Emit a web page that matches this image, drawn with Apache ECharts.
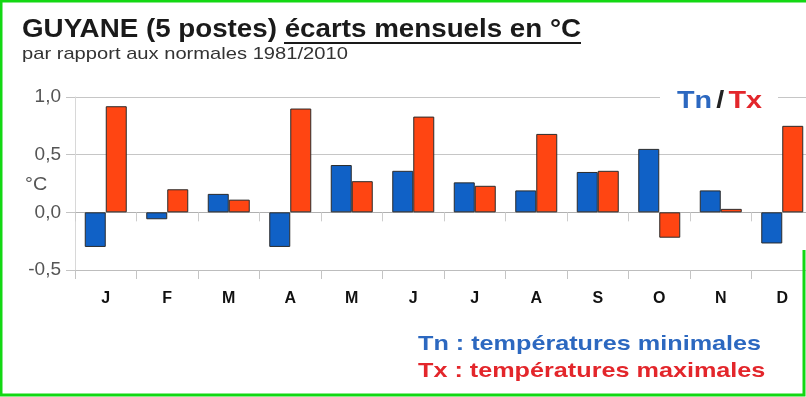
<!DOCTYPE html>
<html>
<head>
<meta charset="utf-8">
<script src="https://cdn.jsdelivr.net/npm/echarts@6/dist/echarts.min.js"></script>
<style>
  html, body { margin: 0; padding: 0; background: #fff; }
  #chart { width: 806px; height: 397px; }
</style>
</head>
<body>
<div id="chart"></div>
<script>
// Monthly departures from the 1981/2010 normals, French Guiana (5 stations)
const months = ['J', 'F', 'M', 'A', 'M', 'J', 'J', 'A', 'S', 'O', 'N', 'D'];
const tnValues = [-0.30, -0.06, 0.16, -0.30, 0.41, 0.36, 0.26, 0.19, 0.35, 0.55, 0.19, -0.27];
const txValues = [0.92, 0.20, 0.11, 0.90, 0.27, 0.83, 0.23, 0.68, 0.36, -0.22, 0.03, 0.75];
const yTicks = { min: -0.5, max: 1.0, step: 0.5 };

const BLUE = '#1061c6';
const RED = '#ff4512';
const TN_TEXT = '#2c68c0';
const TX_TEXT = '#e3262b';
const FONT = '"Liberation Sans", Arial, sans-serif';

const chart = echarts.init(document.getElementById('chart'), null, { renderer: 'canvas' });

// horizontally widened text block helper
function wideText(x, y, text, font, fill, scaleX) {
  return {
    type: 'text', x: x, y: y, scaleX: scaleX, scaleY: 1, z: 100,
    style: { text: text, font: font, fill: fill, textVerticalAlign: 'top' }
  };
}

chart.setOption({
  animation: false,
  backgroundColor: '#fff',
  grid: {
    left: 75, width: 738, top: 97, bottom: 127,
    containLabel: false,
    outerBoundsMode: 'none'
  },
  xAxis: [
    {
      type: 'category',
      data: months,
      position: 'bottom',
      axisLine: { onZero: false, lineStyle: { color: '#bdbdbd', width: 1 } },
      axisTick: { show: true, length: 9, lineStyle: { color: '#c4c4c4' } },
      axisLabel: { color: '#111', fontFamily: FONT, fontWeight: 'bold', fontSize: 16, margin: 21 },
      splitLine: { show: false }
    },
    {
      type: 'category',
      data: months,
      position: 'bottom',
      axisLine: { onZero: true, lineStyle: { color: '#b0b0b0', width: 1 } },
      axisTick: { show: true, length: 9, lineStyle: { color: '#cccccc' } },
      axisLabel: { show: false },
      splitLine: { show: false }
    }
  ],
  yAxis: {
    type: 'value',
    min: yTicks.min,
    max: yTicks.max,
    interval: yTicks.step,
    axisLine: { show: true, lineStyle: { color: '#d8d8d8' } },
    axisTick: { show: true, length: 9, lineStyle: { color: '#c4c4c4' } },
    axisLabel: {
      color: '#555',
      fontFamily: FONT,
      fontSize: 19,
      margin: 14,
      formatter: v => v.toFixed(1).replace('.', ',')
    },
    splitLine: { show: true, lineStyle: { color: '#c6c6c6', width: 1 } }
  },
  series: [
    {
      name: 'Tn',
      type: 'bar',
      xAxisIndex: 0,
      data: tnValues,
      barWidth: 21,
      barGap: '0%',
      itemStyle: { color: BLUE, borderColor: '#2b2b2b', borderWidth: 1 }
    },
    {
      name: 'Tx',
      type: 'bar',
      xAxisIndex: 0,
      data: txValues,
      barWidth: 21,
      barGap: '0%',
      itemStyle: { color: RED, borderColor: '#2b2b2b', borderWidth: 1 }
    }
  ],
  graphic: [
    wideText(22, 18, 'GUYANE (5 postes) écarts mensuels en °C', 'bold 25px ' + FONT, '#1a1a1a', 1.11),
    {
      type: 'line', z: 100,
      shape: { x1: 284, y1: 43, x2: 581, y2: 43 },
      style: { stroke: '#1a1a1a', lineWidth: 2 }
    },
    wideText(22, 46, 'par rapport aux normales 1981/2010', '17px ' + FONT, '#333', 1.185),
    wideText(25, 176, '°C', '18px ' + FONT, '#555', 1.1),
    {
      type: 'rect', z: 99,
      shape: { x: 660, y: 88, width: 118, height: 24 },
      style: { fill: '#fff' }
    },
    {
      type: 'text', x: 677, y: 90, scaleX: 1.25, scaleY: 1, z: 100,
      style: {
        text: '{n|Tn} {s|/} {x|Tx}',
        textVerticalAlign: 'top',
        rich: {
          n: { fill: TN_TEXT, font: 'bold 23px ' + FONT },
          s: { fill: '#222', font: 'bold 23px ' + FONT },
          x: { fill: TX_TEXT, font: 'bold 23px ' + FONT }
        }
      }
    },
    wideText(418, 334, 'Tn : températures minimales', 'bold 21px ' + FONT, TN_TEXT, 1.2),
    wideText(418, 361, 'Tx : températures maximales', 'bold 21px ' + FONT, TX_TEXT, 1.2),
    {
      type: 'polyline', z: 100,
      shape: { points: [[804, 250], [804, 395], [1, 395], [1, 1], [806, 1]] },
      style: { stroke: '#13d813', lineWidth: 3, fill: null }
    }
  ]
});
</script>
</body>
</html>
